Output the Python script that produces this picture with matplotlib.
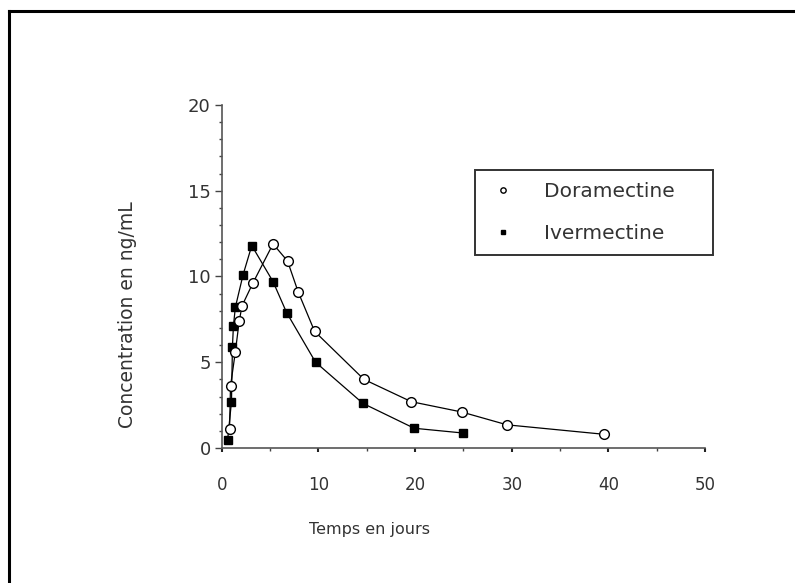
import matplotlib

matplotlib.use("Agg")
import matplotlib.pyplot as plt
from matplotlib.lines import Line2D
from matplotlib.ticker import MultipleLocator

# Doramectine (open circles)
dora_t = [0.8, 0.9, 1.4, 1.8, 2.1, 3.2, 5.3, 6.8, 7.9, 9.6, 14.7, 19.6, 24.8, 29.5, 39.5]
dora_c = [1.1, 3.6, 5.6, 7.4, 8.3, 9.6, 11.9, 10.9, 9.1, 6.8, 4.0, 2.7, 2.1, 1.35, 0.8]

# Ivermectine (filled squares)
iver_t = [0.6, 1.0, 1.1, 1.2, 1.4, 2.2, 3.1, 5.3, 6.7, 9.7, 14.6, 19.9, 25.0]
iver_c = [0.45, 2.7, 5.9, 7.1, 8.2, 10.1, 11.8, 9.7, 7.9, 5.0, 2.6, 1.15, 0.87]

x_ticks = [0, 10, 20, 30, 40, 50]
y_ticks = [0, 5, 10, 15, 20]

TXT = "#333333"
plt.rcParams["font.family"] = ["DejaVu Sans"]

fig = plt.figure(figsize=(7.95, 5.83), dpi=100)
ax = fig.add_axes([0.279, 0.2316, 0.608, 0.5883])

ax.plot(dora_t, dora_c, "-", color="black", lw=0.9, marker="o", ms=7,
        mfc="white", mec="black", mew=1.0, label="Doramectine", zorder=3)
ax.plot(iver_t, iver_c, "-", color="black", lw=0.9, marker="s", ms=6,
        mfc="black", mec="black", label="Ivermectine", zorder=2)

ax.set_xlim(0, 50)
ax.set_ylim(0, 20)
ax.set_xticks(x_ticks)
ax.set_yticks(y_ticks)
ax.xaxis.set_minor_locator(MultipleLocator(5))
ax.yaxis.set_minor_locator(MultipleLocator(1))
for s in ("top", "right"):
    ax.spines[s].set_visible(False)
for s in ("left", "bottom"):
    ax.spines[s].set_color("#555555")
    ax.spines[s].set_linewidth(1.2)

ax.tick_params(axis="y", which="major", direction="out", length=5, width=1,
               colors="#444444", labelcolor=TXT, labelsize=13, pad=3)
ax.tick_params(axis="y", which="minor", direction="out", length=2, width=1,
               colors="#444444")
ax.tick_params(axis="x", which="major", direction="out", length=3, width=1.5,
               colors="#222222", labelcolor=TXT, labelsize=12, pad=17)
ax.tick_params(axis="x", which="minor", direction="out", length=2, width=1,
               colors="#444444")

ax.set_xlabel("Temps en jours", fontsize=11.5, color=TXT)
ax.xaxis.set_label_coords(0.305, -0.215)
ax.set_ylabel("Concentration en ng/mL", fontsize=13.5, color=TXT)
ax.yaxis.set_label_coords(-0.175, 0.39)

leg = ax.legend(loc="upper left", bbox_to_anchor=(0.524, 0.0, 0.493, 0.8105),
                mode="expand", fontsize=14.5, markerscale=0.55, handlelength=1.6,
                handletextpad=1.2, borderpad=0.6, labelspacing=1.15,
                borderaxespad=0, fancybox=False, frameon=True)
leg.get_frame().set_edgecolor("black")
leg.get_frame().set_linewidth(1.4)
for h in leg.legend_handles:
    h.set_linestyle("none")
for t in leg.get_texts():
    t.set_color(TXT)

# outer frame (only top and left edges visible)
fig.add_artist(Line2D([0.0115, 1.0], [0.981, 0.981], color="black", lw=2.2,
                      transform=fig.transFigure))
fig.add_artist(Line2D([0.0115, 0.0115], [0.0, 0.981], color="black", lw=2.2,
                      transform=fig.transFigure))

fig.savefig("out.png", dpi=100)
